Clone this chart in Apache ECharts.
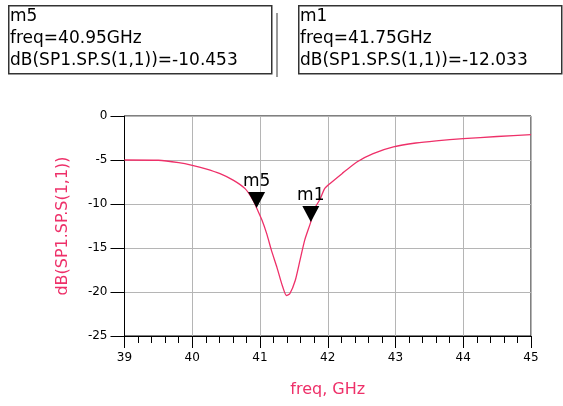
<!DOCTYPE html>
<html>
<head>
<meta charset="utf-8">
<script src="https://cdn.jsdelivr.net/npm/echarts@6/dist/echarts.min.js"></script>
<style>
html,body{margin:0;padding:0;background:#fff;}
#chart{width:563px;height:406px;}
</style>
</head>
<body>
<div id="chart"></div>
<script>
// Data
const freqGHz = [39.0, 39.5, 39.8, 40.0, 40.2, 40.41, 40.61, 40.78, 40.90, 40.95, 41.03, 41.10, 41.17, 41.25, 41.32, 41.39, 41.44, 41.52, 41.59, 41.66, 41.75, 41.80, 41.89, 41.95, 42.03, 42.21, 42.43, 42.67, 42.97, 43.3, 43.6, 44.0, 44.5, 45.0];
const s11dB   = [-5.0, -5.03, -5.3, -5.6, -6.0, -6.55, -7.31, -8.25, -9.58, -10.453, -11.85, -13.4, -15.3, -17.2, -19.05, -20.4, -20.2, -18.7, -16.4, -14.1, -12.033, -10.6, -9.4, -8.3, -7.7, -6.55, -5.22, -4.27, -3.52, -3.07, -2.82, -2.57, -2.33, -2.12];
const markerNames = ['m5', 'm1'];
const markerFreqs = [40.95, 41.75];
const markerVals  = [-10.453, -12.033];
const xTicks = [39, 40, 41, 42, 43, 44, 45];
const yTicks = [0, -5, -10, -15, -20, -25];

const traceName = 'dB(SP1.SP.S(1,1))';
const red = '#ee3069';
const font = 'DejaVu Sans';

const chart = echarts.init(document.getElementById('chart'), null, {renderer: 'canvas'});

const boxes = [
  {x: 8, y: 5, w: 263, h: 68, shadow: true},
  {x: 298, y: 5, w: 263, h: 68, shadow: false}
];
const graphics = [];
markerNames.forEach(function (n, i) {
  const b = boxes[i];
  graphics.push({type: 'rect', left: b.x, top: b.y, shape: {width: b.w, height: b.h},
    style: {fill: '#fff', stroke: '#333', lineWidth: 1.5}, z: 10});
  if (b.shadow) {
    graphics.push({type: 'line', shape: {x1: b.x + b.w + 6, y1: b.y + 8, x2: b.x + b.w + 6, y2: b.y + b.h + 4},
      style: {stroke: '#555', lineWidth: 1.2}, z: 10});
  }
  const lines = [n, 'freq=' + markerFreqs[i].toFixed(2) + 'GHz', traceName + '=' + markerVals[i].toFixed(3)];
  lines.forEach(function (t, k) {
    graphics.push({type: 'text', left: b.x + 2, top: b.y + 3 + k * 22,
      style: {text: t, fill: '#000', font: '17px "' + font + '"'}, z: 11});
  });
});

chart.setOption({
  animation: false,
  backgroundColor: '#fff',
  textStyle: {fontFamily: font},
  grid: {left: 124.5, right: 32, top: 116, bottom: 70, show: true, borderColor: '#000', borderWidth: 1},
  xAxis: {
    type: 'value', min: xTicks[0], max: xTicks[xTicks.length - 1], interval: 1,
    name: 'freq, GHz', nameLocation: 'middle', nameGap: 46,
    nameTextStyle: {color: red, fontSize: 16, fontFamily: font},
    axisLine: {show: true, onZero: false, lineStyle: {color: '#000', width: 1}},
    axisTick: {show: true, length: 12, lineStyle: {color: '#000'}},
    minorTick: {show: true, splitNumber: 5, length: 7, lineStyle: {color: '#000'}},
    splitLine: {show: true, lineStyle: {color: '#b5b5b5', width: 1}},
    axisLabel: {color: '#000', fontSize: 12, margin: 16, fontFamily: font}
  },
  yAxis: {
    type: 'value', min: yTicks[yTicks.length - 1], max: yTicks[0], interval: 5,
    name: traceName, nameLocation: 'middle', nameGap: 54, nameRotate: 90,
    nameTextStyle: {color: red, fontSize: 16, fontFamily: font},
    axisLine: {show: true, onZero: false, lineStyle: {color: '#000', width: 1}},
    axisTick: {show: true, length: 14, lineStyle: {color: '#000'}},
    splitLine: {show: true, lineStyle: {color: '#b5b5b5', width: 1}},
    axisLabel: {color: '#000', fontSize: 12, margin: 17, fontFamily: font}
  },
  series: [{
    type: 'line',
    data: freqGHz.map(function (f, i) { return [f, s11dB[i]]; }),
    showSymbol: false,
    smooth: 0.2,
    lineStyle: {color: red, width: 1.3},
    markPoint: {
      symbol: 'triangle', symbolRotate: 180, symbolSize: [17, 16], symbolOffset: [0, '-50%'],
      itemStyle: {color: '#000'},
      label: {show: true, position: 'top', distance: 2, color: '#000', fontSize: 17, fontFamily: font,
        formatter: function (p) { return p.name; }},
      data: markerNames.map(function (n, i) { return {name: n, coord: [markerFreqs[i], markerVals[i]]}; })
    }
  }],
  graphic: graphics
});
</script>
</body>
</html>
